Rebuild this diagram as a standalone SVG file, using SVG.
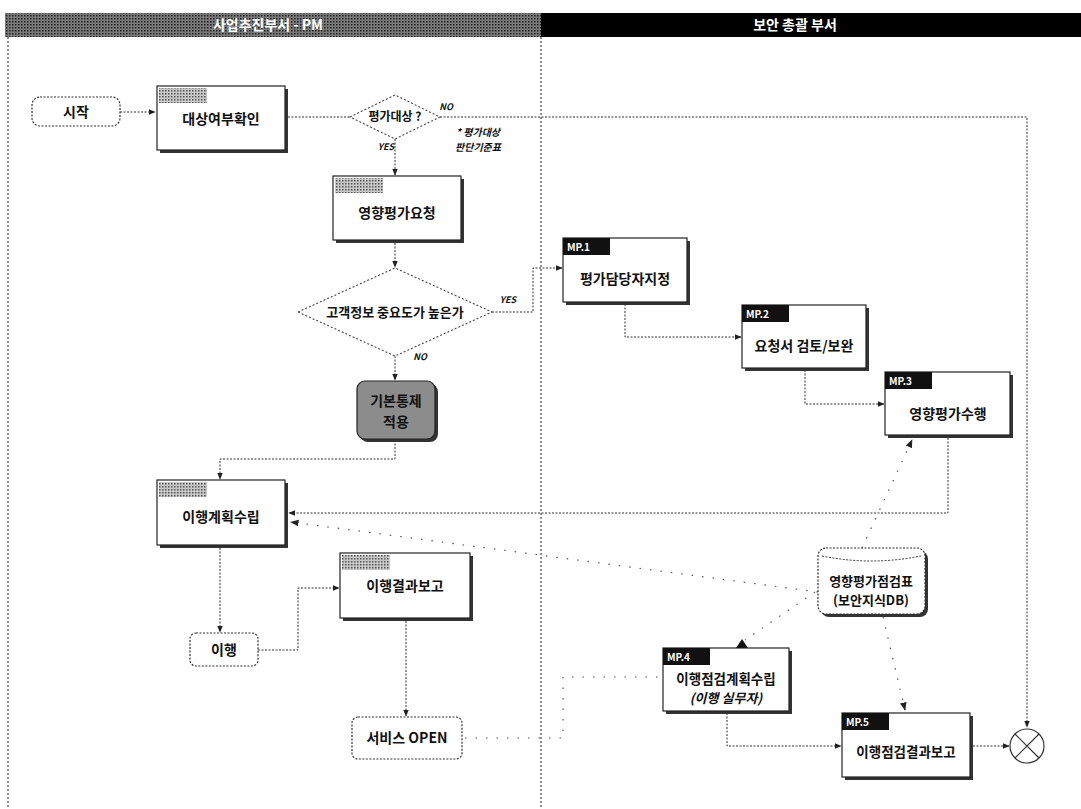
<svg xmlns="http://www.w3.org/2000/svg" width="1081" height="809" viewBox="0 0 1081 809">
<defs>
<marker id="arr" viewBox="0 0 10 10" refX="9" refY="5" markerWidth="7" markerHeight="7" orient="auto-start-reverse">
<path d="M0,1 L10,5 L0,9 z" fill="#222"/>
</marker>
<pattern id="halftone" width="3" height="3" patternUnits="userSpaceOnUse">
<rect width="3" height="3" fill="#c8c8c8"/>
<rect width="1.5" height="1.5" fill="#555"/>
</pattern>
<pattern id="halfdark" width="3" height="3" patternUnits="userSpaceOnUse">
<rect width="3" height="3" fill="#7a7a7a"/>
<rect width="1.5" height="1.5" fill="#222"/>
</pattern>
</defs>
<style>
text{font-family:"Noto Sans CJK KR","Noto Sans",sans-serif;fill:#111;text-anchor:middle;}
.lbl{font-size:14px;font-weight:bold;}
.small{font-size:9px;font-style:italic;font-weight:bold;}
.tabt{font-size:10px;font-weight:bold;fill:#fff;text-anchor:start;}
.box{fill:#fff;stroke:#222;stroke-width:1.2;}
.shadow{fill:#333;}
.tabg{fill:url(#halftone);}
.tabb{fill:#111;}
.term{fill:#fff;stroke:#333;stroke-width:1.2;stroke-dasharray:2 1.5;}
.dia{fill:#fff;stroke:#444;stroke-width:1.1;stroke-dasharray:2 2;}
.con{fill:none;stroke:#333;stroke-width:1;stroke-dasharray:2 1.5;}
.faint{fill:none;stroke:#555;stroke-width:1.2;stroke-dasharray:1.5 9;}
.lane{fill:none;stroke:#444;stroke-width:1.2;stroke-dasharray:2 2;}
</style>
<rect width="1081" height="809" fill="#fff"/>

<g id="header">
<rect x="5" y="13" width="536" height="24" fill="url(#halfdark)"/>
<rect x="541" y="13" width="540" height="24" fill="#000"/>
<text x="268" y="30" style="font-size:14px;font-weight:bold;fill:#fff;">사업추진부서 - PM</text>
<text x="795" y="30" style="font-size:14px;font-weight:bold;fill:#fff;">보안 총괄 부서</text>
</g>

<g id="lanes">
<line class="lane" x1="8" y1="37" x2="8" y2="809"/>
<line class="lane" x1="541" y1="37" x2="541" y2="809"/>
</g>

<g id="connectors">
<path class="con" d="M120,112 L155,112" marker-end="url(#arr)"/>
<path class="con" d="M288,117 L350,117"/>
<path class="con" d="M440,117 L1027,117 L1027,727" marker-end="url(#arr)"/>
<path class="con" d="M395,139 L395,175" marker-end="url(#arr)"/>
<path class="con" d="M395,243 L395,267" marker-end="url(#arr)"/>
<path class="con" d="M492,312 L533,312 L533,268 L562,268" marker-end="url(#arr)"/>
<path class="con" d="M395,356 L395,380" marker-end="url(#arr)"/>
<path class="con" d="M395,440 L395,459 L220,459 L220,479" marker-end="url(#arr)"/>
<path class="con" d="M220,548 L220,632" marker-end="url(#arr)"/>
<path class="con" d="M258,650 L298,650 L298,588 L339,588" marker-end="url(#arr)"/>
<path class="con" d="M406,621 L406,716" marker-end="url(#arr)"/>
<path class="con" d="M625,304 L625,337 L741,337" marker-end="url(#arr)"/>
<path class="con" d="M805,370 L805,404 L884,404" marker-end="url(#arr)"/>
<path class="con" d="M948,438 L948,513 L289,513" marker-end="url(#arr)"/>
<path class="faint" d="M818,592 L291,522" marker-end="url(#arr)"/>
<path class="faint" d="M862,548 L912,440" marker-end="url(#arr)"/>
<path class="faint" d="M815,592 L745,640"/>
<polygon points="742,639 736,648 748,648" fill="#111"/>
<path class="faint" d="M883,617 L905,710" marker-end="url(#arr)"/>
<path class="con" d="M727,713 L727,746 L841,746" marker-end="url(#arr)"/>
<path class="con" d="M973,746 L1009,746" marker-end="url(#arr)"/>
<path class="faint" d="M465,738 L563,738 L563,677 L660,677"/>
</g>

<g id="start">
<rect class="term" x="32" y="97" width="88" height="29" rx="8"/>
<text class="lbl" x="76" y="117">시작</text>
</g>

<g id="n-check">
<rect class="shadow" x="160" y="89" width="128" height="64"/>
<rect class="box" x="157" y="86" width="128" height="64"/>
<rect class="tabg" x="159" y="88" width="48" height="15"/>
<text class="lbl" x="221" y="124">대상여부확인</text>
</g>

<g id="d-target">
<polygon class="dia" points="350,117 395,95 440,117 395,139"/>
<text class="lbl" x="395" y="121" style="font-size:12px">평가대상 ?</text>
<text class="small" x="446" y="110">NO</text>
<text class="small" x="386" y="150">YES</text>
<text class="small" x="478" y="136" style="font-size:10px">* 평가대상</text>
<text class="small" x="478" y="151" style="font-size:10px">판단기준표</text>
</g>

<g id="n-request">
<rect class="shadow" x="336" y="179" width="128" height="64"/>
<rect class="box" x="333" y="176" width="128" height="64"/>
<rect class="tabg" x="335" y="178" width="48" height="15"/>
<text class="lbl" x="397" y="218">영향평가요청</text>
</g>

<g id="d-importance">
<polygon class="dia" points="298,312 395,268 492,312 395,356"/>
<text class="lbl" x="395" y="317" style="font-size:13px">고객정보 중요도가 높은가</text>
<text class="small" x="508" y="303">YES</text>
<text class="small" x="420" y="360">NO</text>
</g>

<g id="n-basic">
<rect class="shadow" x="360" y="384" width="78" height="58" rx="8"/>
<rect x="357" y="381" width="78" height="58" rx="8" fill="#8c8c8c" stroke="#222" stroke-width="1.2"/>
<text class="lbl" x="396" y="406">기본통제</text>
<text class="lbl" x="396" y="427">적용</text>
</g>

<g id="n-plan">
<rect class="shadow" x="160" y="483" width="128" height="65"/>
<rect class="box" x="157" y="480" width="128" height="65"/>
<rect class="tabg" x="159" y="482" width="48" height="15"/>
<text class="lbl" x="221" y="522">이행계획수립</text>
</g>

<g id="n-exec">
<rect class="term" x="190" y="633" width="68" height="33" rx="6"/>
<text class="lbl" x="224" y="655">이행</text>
</g>

<g id="n-report">
<rect class="shadow" x="343" y="556" width="130" height="65"/>
<rect class="box" x="340" y="553" width="130" height="65"/>
<rect class="tabg" x="342" y="555" width="48" height="15"/>
<text class="lbl" x="405" y="591">이행결과보고</text>
</g>

<g id="n-open">
<rect class="term" x="352" y="717" width="110" height="42" rx="6"/>
<text class="lbl" x="407" y="743">서비스 OPEN</text>
</g>

<g id="mp1">
<rect class="shadow" x="566" y="241" width="124" height="64"/>
<rect class="box" x="563" y="238" width="124" height="64"/>
<rect class="tabb" x="563" y="238" width="47" height="17"/>
<text class="tabt" x="567" y="251">MP.1</text>
<text class="lbl" x="625" y="284">평가담당자지정</text>
</g>

<g id="mp2">
<rect class="shadow" x="745" y="308" width="124" height="63"/>
<rect class="box" x="742" y="305" width="124" height="63"/>
<rect class="tabb" x="742" y="305" width="47" height="17"/>
<text class="tabt" x="746" y="318">MP.2</text>
<text class="lbl" x="804" y="351">요청서 검토/보완</text>
</g>

<g id="mp3">
<rect class="shadow" x="888" y="375" width="125" height="63"/>
<rect class="box" x="885" y="372" width="125" height="63"/>
<rect class="tabb" x="885" y="372" width="47" height="17"/>
<text class="tabt" x="889" y="385">MP.3</text>
<text class="lbl" x="948" y="419">영향평가수행</text>
</g>

<g id="db">
<rect class="shadow" x="821" y="551" width="107" height="66" rx="8"/>
<rect class="term" x="818" y="548" width="107" height="66" rx="8"/>
<path d="M822,556 Q871,566 921,556" fill="none" stroke="#333" stroke-width="1" stroke-dasharray="2 1.5"/>
<text class="lbl" x="871" y="586" style="font-size:13px">영향평가점검표</text>
<text class="lbl" x="871" y="605" style="font-size:13px">(보안지식DB)</text>
</g>

<g id="mp4">
<rect class="shadow" x="666" y="651" width="126" height="63"/>
<rect class="box" x="663" y="648" width="126" height="63"/>
<rect class="tabb" x="663" y="648" width="47" height="17"/>
<text class="tabt" x="667" y="661">MP.4</text>
<text class="lbl" x="726" y="684" style="font-size:13.5px">이행점검계획수립</text>
<text class="lbl" x="726" y="703" style="font-size:13px;font-style:italic">(이행 실무자)</text>
</g>

<g id="mp5">
<rect class="shadow" x="845" y="716" width="128" height="64"/>
<rect class="box" x="842" y="713" width="128" height="64"/>
<rect class="tabb" x="842" y="713" width="47" height="17"/>
<text class="tabt" x="846" y="726">MP.5</text>
<text class="lbl" x="906" y="757" style="font-size:13.5px">이행점검결과보고</text>
</g>

<g id="end">
<circle cx="1027" cy="746" r="17" fill="#fff" stroke="#333" stroke-width="1.2"/>
<path d="M1015,734 L1039,758 M1039,734 L1015,758" stroke="#333" stroke-width="1.2"/>
</g>
</svg>
